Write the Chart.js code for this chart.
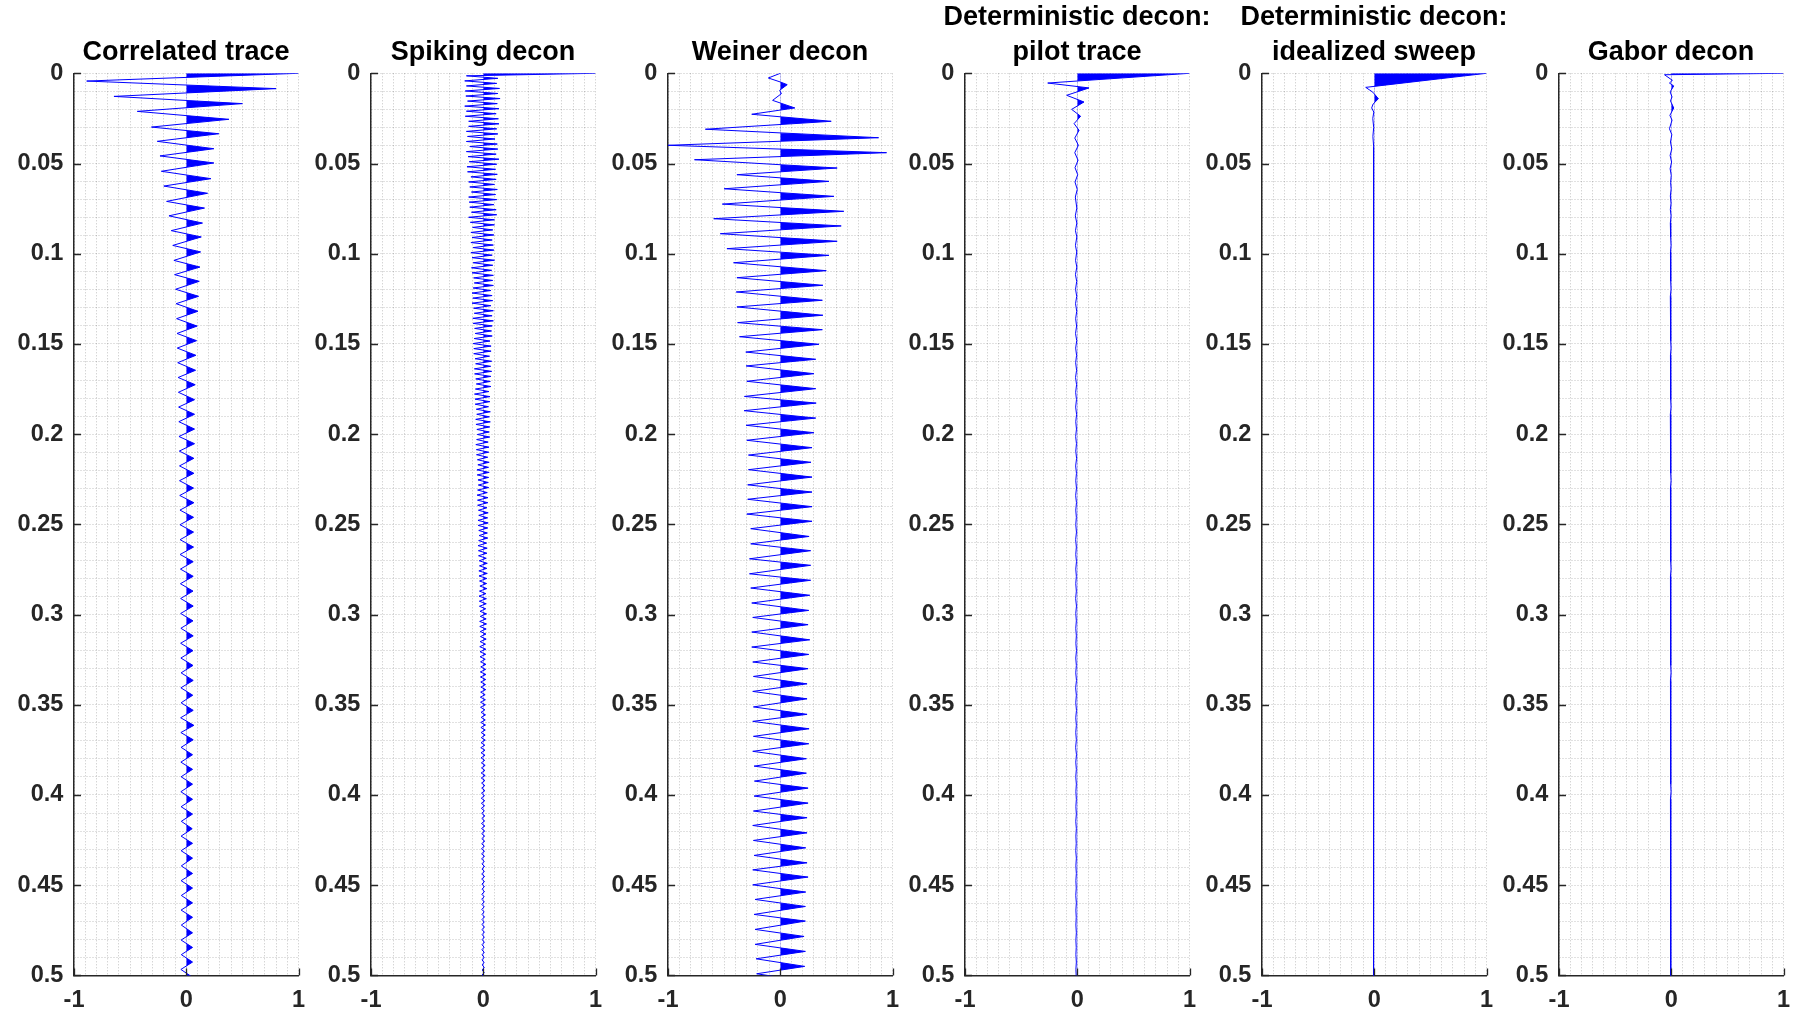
<!DOCTYPE html>
<html>
<head>
<meta charset="utf-8">
<script src="https://cdn.jsdelivr.net/npm/chart.js@4.4.1/dist/chart.umd.min.js"></script>
<style>
  html, body { margin: 0; padding: 0; background: #fff; overflow: hidden; }
  #fig { position: relative; width: 1794px; height: 1013px; }
  #fig canvas { position: absolute; top: 0; }
</style>
</head>
<body>
<div id="fig"></div>
<script>
// Extrema of each trace: time in ms, amplitude (normalised)
const corrTimes = [
  0, 4.3, 8.5, 12.8, 16.8, 21.1, 25.5, 29.8, 33.5, 37.7,
  41.8, 45.8, 49.7, 54.3, 58.4, 62.5, 66.5, 71.0, 74.7, 79.0,
  83.0, 87.2, 90.7, 95.4, 99.0, 103.7, 107.4, 111.6, 115.3, 119.7,
  123.6, 127.7, 131.9, 136.0, 140.1, 144.2, 148.2, 152.3, 156.3, 160.4,
  164.6, 168.6, 172.6, 176.8, 180.9, 185.0, 189.0, 193.1, 197.2, 201.3,
  205.3, 209.4, 213.4, 217.6, 221.7, 225.8, 229.9, 234.0, 238.0, 242.1,
  246.1, 250.2, 254.3, 258.5, 262.6, 266.7, 270.7, 274.8, 278.8, 282.9,
  287.0, 291.1, 295.3, 299.4, 303.5, 307.6, 311.8, 315.9, 320.0, 324.1,
  328.2, 332.3, 336.5, 340.6, 344.7, 348.9, 353.1, 357.2, 361.4, 365.4,
  369.4, 373.6, 377.7, 381.8, 385.8, 389.9, 394.0, 398.2, 402.4, 406.5,
  410.6, 414.6, 418.7, 422.8, 426.8, 430.9, 435.0, 439.3, 443.5, 447.5,
  451.6, 455.7, 459.8, 463.8, 467.8, 472.1, 476.4, 480.4, 484.5, 488.5,
  492.6, 496.7, 500.8
];
const corrAmps = [
  1.0, -0.887, 0.80, -0.644, 0.50, -0.436, 0.38, -0.31, 0.29, -0.258,
  0.246, -0.234, 0.246, -0.222, 0.22, -0.20, 0.19, -0.175, 0.163, -0.154,
  0.145, -0.134, 0.134, -0.12, 0.128, -0.11, 0.122, -0.104, 0.116, -0.095,
  0.11, -0.09, 0.104, -0.086, 0.097, -0.082, 0.092, -0.08, 0.086, -0.076,
  0.083, -0.072, 0.08, -0.07, 0.074, -0.068, 0.074, -0.066, 0.074, -0.065,
  0.074, -0.062, 0.068, -0.06, 0.068, -0.06, 0.065, -0.058, 0.068, -0.056,
  0.065, -0.056, 0.065, -0.055, 0.065, -0.055, 0.062, -0.052, 0.062, -0.052,
  0.06, -0.05, 0.062, -0.05, 0.06, -0.048, 0.062, -0.05, 0.06, -0.048,
  0.06, -0.046, 0.062, -0.048, 0.058, -0.046, 0.062, -0.05, 0.068, -0.048,
  0.062, -0.046, 0.056, -0.048, 0.056, -0.046, 0.056, -0.048, 0.056, -0.046,
  0.056, -0.044, 0.053, -0.046, 0.056, -0.046, 0.056, -0.044, 0.056, -0.046,
  0.056, -0.044, 0.056, -0.046, 0.056, -0.044, 0.056, -0.046, 0.056, -0.044,
  0.056, -0.048, 0.05
];

// spiking decon output is a dense alternating band, one extremum every 1.4 ms
const spikeStep = 1.4;
const spikeAmps = [
  1.0, -0.15, 0.13, -0.165, 0.12, -0.15, 0.145, -0.16, 0.13, -0.155,
  0.15, -0.14, 0.125, -0.165, 0.14, -0.15, 0.115, -0.16, 0.135, -0.13,
  0.14, -0.13, 0.12, -0.15, 0.13, -0.14, 0.105, -0.15, 0.125, -0.12,
  0.13, -0.15, 0.115, -0.135, 0.14, -0.125, 0.12, -0.145, 0.11, -0.14,
  0.125, -0.11, 0.115, -0.13, 0.1, -0.12, 0.125, -0.105, 0.11, -0.13,
  0.12, -0.125, 0.095, -0.12, 0.115, -0.105, 0.12, -0.13, 0.1, -0.115,
  0.1, -0.095, 0.085, -0.11, 0.095, -0.1, 0.08, -0.11, 0.09, -0.09,
  0.095, -0.11, 0.08, -0.1, 0.1, -0.09, 0.085, -0.105, 0.075, -0.1,
  0.09, -0.086, 0.084, -0.08, 0.09, -0.09, 0.068, -0.1, 0.079, -0.093,
  0.084, -0.1, 0.068, -0.086, 0.09, -0.08, 0.079, -0.093, 0.09, -0.09,
  0.08, -0.077, 0.074, -0.072, 0.08, -0.081, 0.06, -0.09, 0.07, -0.084,
  0.07, -0.085, 0.056, -0.073, 0.075, -0.068, 0.066, -0.079, 0.075, -0.077,
  0.068, -0.067, 0.063, -0.062, 0.068, -0.07, 0.051, -0.078, 0.06, -0.073,
  0.059, -0.072, 0.047, -0.062, 0.063, -0.058, 0.055, -0.067, 0.063, -0.065,
  0.058, -0.057, 0.054, -0.053, 0.058, -0.059, 0.044, -0.066, 0.051, -0.061,
  0.049, -0.06, 0.04, -0.052, 0.053, -0.048, 0.047, -0.056, 0.053, -0.054,
  0.048, -0.047, 0.045, -0.044, 0.048, -0.05, 0.036, -0.055, 0.042, -0.051,
  0.041, -0.05, 0.033, -0.043, 0.044, -0.04, 0.039, -0.047, 0.044, -0.045,
  0.04, -0.04, 0.037, -0.037, 0.04, -0.041, 0.03, -0.046, 0.035, -0.043,
  0.033, -0.042, 0.027, -0.036, 0.036, -0.034, 0.032, -0.039, 0.036, -0.038,
  0.032, -0.033, 0.03, -0.03, 0.032, -0.034, 0.024, -0.038, 0.028, -0.035,
  0.027, -0.034, 0.022, -0.029, 0.029, -0.027, 0.026, -0.032, 0.029, -0.031,
  0.026, -0.027, 0.024, -0.025, 0.026, -0.028, 0.02, -0.031, 0.023, -0.029,
  0.022, -0.028, 0.018, -0.024, 0.024, -0.022, 0.021, -0.026, 0.024, -0.025,
  0.022, -0.022, 0.02, -0.021, 0.022, -0.023, 0.017, -0.026, 0.019, -0.024,
  0.019, -0.024, 0.015, -0.02, 0.02, -0.019, 0.018, -0.022, 0.02, -0.021,
  0.018, -0.019, 0.017, -0.018, 0.018, -0.02, 0.014, -0.022, 0.016, -0.02,
  0.016, -0.02, 0.013, -0.017, 0.017, -0.016, 0.015, -0.019, 0.017, -0.018,
  0.015, -0.015, 0.014, -0.014, 0.015, -0.016, 0.011, -0.018, 0.013, -0.017,
  0.012, -0.017, 0.01, -0.014, 0.014, -0.013, 0.012, -0.016, 0.014, -0.015,
  0.013, -0.014, 0.012, -0.013, 0.013, -0.014, 0.01, -0.016, 0.011, -0.015,
  0.011, -0.015, 0.009, -0.012, 0.012, -0.012, 0.01, -0.014, 0.012, -0.014,
  0.011, -0.012, 0.01, -0.011, 0.011, -0.013, 0.008, -0.014, 0.01, -0.013,
  0.009, -0.013, 0.008, -0.011, 0.011, -0.011, 0.009, -0.012, 0.011, -0.012,
  0.01, -0.01, 0.009, -0.01, 0.01, -0.011, 0.008, -0.012, 0.009, -0.011,
  0.008, -0.011, 0.007, -0.009, 0.009, -0.009, 0.008, -0.01, 0.009, -0.01
];

const weinerTimes = [
  0, 2.6, 4.8, 6.3, 9.4, 11.3, 15.0, 19.2, 22.7, 26.6,
  31.0, 35.7, 39.9, 44.0, 47.9, 52.5, 56.2, 59.9, 64.0, 68.2,
  72.5, 76.5, 80.6, 84.6, 88.9, 93.1, 97.2, 100.9, 105.0, 109.4,
  113.3, 117.5, 121.2, 125.8, 129.5, 134.1, 138.2, 142.1, 146.0, 150.2,
  154.5, 158.5, 162.2, 166.5, 170.7, 174.8, 179.1, 182.8, 187.0, 191.1,
  195.1, 199.2, 203.4, 207.5, 211.6, 215.6, 219.7, 223.8, 228.1, 232.1,
  236.1, 240.2, 244.3, 248.3, 252.4, 256.7, 260.8, 264.6, 269.1, 272.7,
  277.4, 281.0, 285.3, 289.3, 293.6, 297.7, 301.6, 305.6, 309.7, 314.0,
  318.0, 322.1, 326.3, 330.0, 334.3, 338.4, 342.6, 346.7, 351.2, 355.3,
  359.2, 363.3, 367.5, 371.6, 375.8, 379.9, 384.0, 387.9, 392.3, 396.2,
  400.6, 404.5, 408.9, 412.6, 416.9, 421.0, 425.2, 429.3, 433.5, 437.6,
  441.5, 445.5, 449.8, 453.8, 457.9, 461.8, 466.2, 469.9, 474.5, 478.4,
  482.8, 486.7, 490.8, 495.0, 499.1, 503.0
];
const weinerAmps = [
  0, -0.106, 0, 0.062, -0.005, 0.01, -0.068, 0.13, -0.254, 0.454,
  -0.667, 0.876, -1.0, 0.947, -0.764, 0.507, -0.386, 0.434, -0.5, 0.478,
  -0.516, 0.566, -0.593, 0.543, -0.534, 0.507, -0.475, 0.434, -0.416, 0.41,
  -0.386, 0.38, -0.392, 0.375, -0.386, 0.38, -0.38, 0.375, -0.363, 0.345,
  -0.307, 0.316, -0.304, 0.3, -0.298, 0.316, -0.319, 0.32, -0.322, 0.316,
  -0.304, 0.3, -0.298, 0.283, -0.283, 0.274, -0.283, 0.283, -0.29, 0.283,
  -0.29, 0.283, -0.298, 0.283, -0.263, 0.257, -0.263, 0.271, -0.274, 0.271,
  -0.274, 0.271, -0.263, 0.263, -0.254, 0.254, -0.245, 0.248, -0.254, 0.263,
  -0.254, 0.254, -0.245, 0.248, -0.239, 0.239, -0.245, 0.239, -0.239, 0.239,
  -0.245, 0.257, -0.239, 0.254, -0.245, 0.233, -0.233, 0.233, -0.23, 0.248,
  -0.233, 0.248, -0.239, 0.239, -0.245, 0.239, -0.239, 0.227, -0.233, 0.239,
  -0.245, 0.248, -0.245, 0.227, -0.224, 0.224, -0.233, 0.224, -0.224, 0.212,
  -0.224, 0.224, -0.215, 0.218, -0.21, 0.2
];

// deterministic and Gabor outputs: the early wavelet, then a faint ringing
// that keeps the correlated-trace timing from 79 ms on
const pilotHeadTimes = [0, 5.4, 8.1, 12.2, 15.9, 20.0, 23.8, 27.9, 31.6, 35.9, 39.9, 44.0, 48.2, 52.3, 56.2, 60.3, 64.3, 68.6, 74.7];
const pilotHeadAmps = [1.0, -0.263, 0.105, -0.094, 0.06, -0.05, 0.03, -0.028, 0.016, -0.022, 0.01, -0.022, 0.007, -0.02, 0.004, -0.02, 0.0, -0.017, -0.004];
const pilotTailAmps = [
  -0.017, -0.004, -0.016, -0.004, -0.016, -0.005, -0.015, -0.004, -0.016, -0.005,
  -0.015, -0.005, -0.015, -0.005, -0.014, -0.006, -0.015, -0.005, -0.014, -0.006,
  -0.014, -0.006, -0.015, -0.006, -0.014, -0.007, -0.014, -0.006, -0.013, -0.007,
  -0.014, -0.007, -0.013, -0.006, -0.014, -0.007, -0.013, -0.007, -0.014, -0.007,
  -0.013, -0.008, -0.013, -0.007, -0.014, -0.008, -0.013, -0.007, -0.013, -0.008,
  -0.013, -0.008, -0.014, -0.007, -0.013, -0.008, -0.013, -0.008, -0.012, -0.007,
  -0.013, -0.008, -0.013, -0.007, -0.014, -0.008, -0.013, -0.007, -0.013, -0.008,
  -0.013, -0.008, -0.014, -0.007, -0.013, -0.008, -0.013, -0.008, -0.012, -0.008,
  -0.012, -0.008, -0.013, -0.008, -0.012, -0.009, -0.013, -0.008, -0.012, -0.008,
  -0.012, -0.009, -0.013, -0.008, -0.012, -0.009, -0.012, -0.008, -0.012, -0.009,
  -0.012, -0.008, -0.012, -0.009
];

const sweepHeadTimes = [0, 7.8, 10.5, 14.1, 17.0, 19.2, 21.5, 25, 30, 35, 41, 47, 53, 59, 65, 71, 75];
const sweepHeadAmps = [1.0, -0.076, -0.012, 0.037, -0.01, -0.023, -0.004, -0.013, -0.005, -0.012, -0.005, -0.011, -0.005, -0.01, -0.005, -0.01, -0.006];
const sweepTailAmps = [
  -0.009, -0.004, -0.009, -0.005, -0.009, -0.004, -0.008, -0.005, -0.009, -0.004,
  -0.008, -0.005, -0.009, -0.005, -0.008, -0.004, -0.009, -0.005, -0.008, -0.005,
  -0.008, -0.005, -0.009, -0.005, -0.008, -0.004, -0.008, -0.005, -0.009, -0.005,
  -0.008, -0.005, -0.008, -0.004, -0.009, -0.005, -0.008, -0.005, -0.008, -0.005,
  -0.008, -0.005, -0.009, -0.005, -0.008, -0.005, -0.008, -0.004, -0.008, -0.005,
  -0.009, -0.005, -0.008, -0.005, -0.008, -0.005, -0.008, -0.005, -0.009, -0.005,
  -0.008, -0.005, -0.008, -0.005, -0.008, -0.004, -0.008, -0.005, -0.009, -0.005,
  -0.008, -0.005, -0.008, -0.005, -0.008, -0.005, -0.008, -0.005, -0.008, -0.005,
  -0.009, -0.005, -0.008, -0.005, -0.008, -0.005, -0.008, -0.005, -0.008, -0.005,
  -0.008, -0.005, -0.008, -0.005, -0.009, -0.005, -0.008, -0.005, -0.008, -0.005,
  -0.008, -0.005, -0.008, -0.005
];

const gaborHeadTimes = [0, 0.8, 3.9, 5.4, 7.0, 10.3, 13.1, 15.3, 19.2, 23.3, 26.0, 30.7, 34.0, 38.1, 41.8, 45.5, 49.2, 52.9,
  56.6, 60.5, 64.0, 68.0, 72.0, 75.5];
const gaborHeadAmps = [1.0, -0.06, 0.01, -0.016, 0.022, -0.01, 0.007, -0.007, 0.022, -0.012, 0.007, -0.016, 0.005, -0.007, 0.005, -0.01, 0.003, -0.01,
  0.0, -0.006, -0.001, -0.008, -0.002, -0.008];
const gaborTailAmps = [
  -0.002, -0.008, -0.003, -0.008, -0.002, -0.007, -0.003, -0.008, -0.003, -0.007,
  -0.002, -0.008, -0.003, -0.007, -0.003, -0.008, -0.003, -0.007, -0.002, -0.007,
  -0.003, -0.008, -0.003, -0.007, -0.003, -0.007, -0.002, -0.008, -0.003, -0.007,
  -0.003, -0.007, -0.003, -0.008, -0.003, -0.007, -0.002, -0.007, -0.003, -0.007,
  -0.003, -0.008, -0.003, -0.007, -0.003, -0.007, -0.003, -0.007, -0.002, -0.007,
  -0.003, -0.007, -0.003, -0.008, -0.003, -0.007, -0.003, -0.007, -0.003, -0.007,
  -0.003, -0.007, -0.002, -0.007, -0.003, -0.007, -0.003, -0.008, -0.003, -0.007,
  -0.003, -0.007, -0.003, -0.007, -0.003, -0.007, -0.003, -0.007, -0.002, -0.007,
  -0.003, -0.007, -0.003, -0.007, -0.003, -0.007, -0.003, -0.007, -0.003, -0.007,
  -0.003, -0.007, -0.003, -0.007, -0.003, -0.007, -0.003, -0.007, -0.003, -0.007,
  -0.003, -0.007, -0.003, -0.007
];

const tailTimes = corrTimes.slice(19);
const spikeTimes = spikeAmps.map((a, i) => i * spikeStep);

const panelTitles = [
  [' ', 'Correlated trace'],
  [' ', 'Spiking decon'],
  [' ', 'Weiner decon'],
  ['Deterministic decon:', 'pilot trace'],
  ['Deterministic decon:', 'idealized sweep'],
  [' ', 'Gabor decon']
];
const panelTraces = [
  [corrTimes, corrAmps],
  [spikeTimes, spikeAmps],
  [weinerTimes, weinerAmps],
  [pilotHeadTimes.concat(tailTimes), pilotHeadAmps.concat(pilotTailAmps)],
  [sweepHeadTimes.concat(tailTimes), sweepHeadAmps.concat(sweepTailAmps)],
  [gaborHeadTimes.concat(tailTimes), gaborHeadAmps.concat(gaborTailAmps)]
];

const TRACE_BLUE = '#0000ff';
const AXIS_COLOR = '#262626';
const GRID_COLOR = 'rgba(0, 0, 0, 0.24)';
const FONT_FAMILY = "'Liberation Sans', Arial, Helvetica, sans-serif";
const PANEL_STEP = 297;
const CANVAS_W = 372;
const CANVAS_H = 1013;

// shade the positive lobes of the trace (variable-area wiggle)
const wiggleFill = {
  id: 'wiggleFill',
  beforeDatasetsDraw(chart) {
    const {ctx, chartArea} = chart;
    const x0 = chart.scales.x.getPixelForValue(0);
    const pts = chart.getDatasetMeta(0).data;
    if (!pts.length) return;
    ctx.save();
    ctx.beginPath();
    ctx.rect(x0, chartArea.top, chartArea.right - x0, chartArea.bottom - chartArea.top);
    ctx.clip();
    ctx.beginPath();
    ctx.moveTo(x0, pts[0].y);
    pts.forEach(p => ctx.lineTo(p.x, p.y));
    ctx.lineTo(x0, pts[pts.length - 1].y);
    ctx.closePath();
    ctx.fillStyle = TRACE_BLUE;
    ctx.fill();
    ctx.restore();
  }
};

const isMajorY = v => Math.abs(v * 20 - Math.round(v * 20)) < 1e-6;
const isMajorX = v => Math.abs(v - Math.round(v)) < 1e-6;

// short tick marks pointing into the plot, major ticks only
const inwardTicks = {
  id: 'inwardTicks',
  afterDatasetsDraw(chart) {
    const {ctx, chartArea: a, scales: {x, y}} = chart;
    ctx.save();
    ctx.strokeStyle = AXIS_COLOR;
    ctx.lineWidth = 1.3;
    ctx.beginPath();
    y.ticks.forEach(t => {
      if (!isMajorY(t.value)) return;
      const py = Math.round(y.getPixelForValue(t.value)) + 0.5;
      ctx.moveTo(a.left, py);
      ctx.lineTo(a.left + 7, py);
    });
    x.ticks.forEach(t => {
      if (!isMajorX(t.value)) return;
      const px = Math.round(x.getPixelForValue(t.value)) + 0.5;
      ctx.moveTo(px, a.bottom);
      ctx.lineTo(px, a.bottom - 7);
    });
    ctx.stroke();
    ctx.restore();
  }
};

const titleFont = {family: FONT_FAMILY, size: 27, weight: 'bold'};
const tickFont = {family: FONT_FAMILY, size: 23.5, weight: 'bold'};

function buildPanel(idx) {
  const fig = document.getElementById('fig');
  const canvas = document.createElement('canvas');
  canvas.width = CANVAS_W;
  canvas.height = CANVAS_H;
  canvas.style.left = (idx * PANEL_STEP) + 'px';
  fig.appendChild(canvas);

  const [times, amps] = panelTraces[idx];
  const points = times.map((t, i) => ({x: amps[i], y: t / 1000}));
  const [line1, line2] = panelTitles[idx];

  new Chart(canvas, {
    type: 'line',
    data: {
      datasets: [{
        data: points,
        xAxisID: 'x',
        yAxisID: 'y',
        borderColor: TRACE_BLUE,
        borderWidth: 1,
        pointRadius: 0,
        pointHitRadius: 0,
        tension: 0,
        fill: false
      }]
    },
    options: {
      responsive: false,
      animation: false,
      events: [],
      indexAxis: 'y',
      layout: {padding: {top: 1.8, left: 0, right: 0, bottom: 0}},
      plugins: {
        legend: {display: false},
        tooltip: {enabled: false},
        title: {
          display: true,
          text: line1,
          color: '#000',
          font: titleFont,
          padding: {top: 0, bottom: 0}
        },
        subtitle: {
          display: true,
          text: line2,
          color: '#000',
          font: titleFont,
          padding: {top: 1.8, bottom: 4.9}
        }
      },
      scales: {
        x: {
          type: 'linear',
          position: 'bottom',
          min: -1,
          max: 1,
          afterFit: s => { s.height = 37.6; },
          border: {display: true, color: AXIS_COLOR, width: 1.5, dash: [1, 2]},
          grid: {color: GRID_COLOR, lineWidth: 1, drawTicks: false},
          ticks: {
            stepSize: 0.1,
            autoSkip: false,
            maxRotation: 0,
            padding: 11.5,
            color: AXIS_COLOR,
            font: tickFont,
            callback: v => (isMajorX(v) ? String(Math.round(v)) : '')
          }
        },
        y: {
          type: 'linear',
          position: 'left',
          reverse: true,
          min: 0,
          max: 0.5,
          afterFit: s => { s.width = 74; },
          border: {display: true, color: AXIS_COLOR, width: 1.5, dash: [1, 2]},
          grid: {color: GRID_COLOR, lineWidth: 1, drawTicks: false},
          ticks: {
            stepSize: 0.01,
            autoSkip: false,
            maxTicksLimit: 1000,
            padding: 10.7,
            color: AXIS_COLOR,
            font: tickFont,
            callback: v => (isMajorY(v) ? String(Math.round(v * 100) / 100) : '')
          }
        },
        // empty right-hand axis keeps the titles centred over the plot
        pad: {
          type: 'linear',
          position: 'right',
          afterFit: s => { s.width = CANVAS_W - 74 - 224.5; },
          border: {display: false},
          grid: {display: false, drawTicks: false},
          ticks: {display: false}
        }
      }
    },
    plugins: [wiggleFill, inwardTicks]
  });
}

for (let i = 0; i < panelTraces.length; i++) buildPanel(i);
</script>
</body>
</html>
